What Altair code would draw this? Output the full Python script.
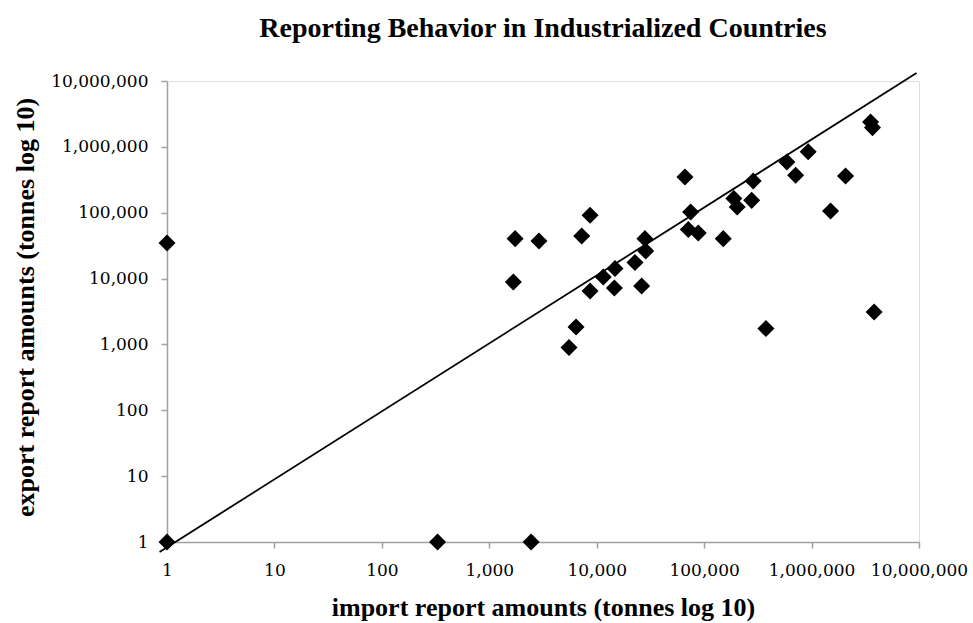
import altair as alt
import pandas as pd

# Reported amounts (tonnes): importer-reported vs exporter-reported
import_amounts = [1, 1, 330, 2450, 1740, 1675, 2900, 8670, 7250, 28100,
                  28600, 22700, 14800, 11500, 8670, 14600, 26200, 6420, 5520, 66300,
                  74900, 71200, 88100, 150600, 189000, 203000, 277000, 286000, 589000, 711000,
                  930000, 376000, 3540000, 3690000, 2071000, 1503000, 3822000]
export_amounts = [1, 34700, 1, 1, 40400, 8870, 37150, 91400, 44300, 40400,
                  26200, 17500, 14200, 10600, 6470, 7190, 7710, 1840, 895, 349000,
                  102500, 55400, 49200, 40400, 164000, 122000, 154000, 303000, 589000, 370000,
                  841000, 1740, 2384000, 1960000, 361000, 106000, 3100]

# Reference line (drawn across the chart)
line_x = [0.853, 9480000]
line_y = [0.705, 13180000]

tick_values = [1, 10, 100, 1000, 10000, 100000, 1000000, 10000000]

pts = pd.DataFrame({"imp": import_amounts, "exp": export_amounts})
ln = pd.DataFrame({"imp": line_x, "exp": line_y})

SERIF = "Liberation Serif"
LABEL_FONT = "DejaVu Serif"
AXIS_GRAY = "#a0a0a0"

xscale = alt.Scale(type="log", domain=[1, 10000000], nice=False)
yscale = alt.Scale(type="log", domain=[1, 10000000], nice=False)

xaxis = alt.Axis(
    title="import report amounts (tonnes log 10)",
    values=tick_values, format=",d", grid=False,
    domainColor=AXIS_GRAY, domainWidth=1.5, tickColor=AXIS_GRAY, tickWidth=1.5, tickSize=6,
    labelFont=LABEL_FONT, labelFontSize=17, labelColor="black", labelPadding=14,
    labelFlush=False, labelOverlap=False,
    titleFont=SERIF, titleFontSize=26, titleFontWeight="bold", titleColor="black",
    titleBaseline="alphabetic", titleY=73,
)
yaxis = alt.Axis(
    title="export report amounts (tonnes log 10)",
    values=tick_values, format=",d", grid=False,
    domainColor=AXIS_GRAY, domainWidth=1.5, tickColor=AXIS_GRAY, tickWidth=1.5, tickSize=6,
    labelFont=LABEL_FONT, labelFontSize=17, labelColor="black", labelPadding=13,
    labelFlush=False, labelOverlap=False,
    titleFont=SERIF, titleFontSize=26, titleFontWeight="bold", titleColor="black",
    titleAngle=-90, titleBaseline="alphabetic", titleX=-134, titleY=226,
)

line = alt.Chart(ln).mark_line(color="black", strokeWidth=1.8, clip=False).encode(
    x=alt.X("imp:Q", scale=xscale, axis=xaxis),
    y=alt.Y("exp:Q", scale=yscale, axis=yaxis),
)

points = alt.Chart(pts).mark_point(
    shape="diamond", filled=True, color="black", opacity=1, size=290, clip=False
).encode(
    x=alt.X("imp:Q", scale=xscale),
    y=alt.Y("exp:Q", scale=yscale),
)

chart = (line + points).properties(
    width=752,
    height=461,
    title=alt.TitleParams(
        "Reporting Behavior in Industrialized Countries",
        font=SERIF, fontSize=28, fontWeight="bold", color="black",
        anchor="middle", offset=27,
    ),
    autosize=alt.AutoSizeParams(type="none"),
    padding={"left": 167, "top": 81, "right": 54, "bottom": 81},
).configure_view(stroke=None).configure(background="white")

chart.save("out.html", embed_options={"renderer": "svg", "actions": False})
